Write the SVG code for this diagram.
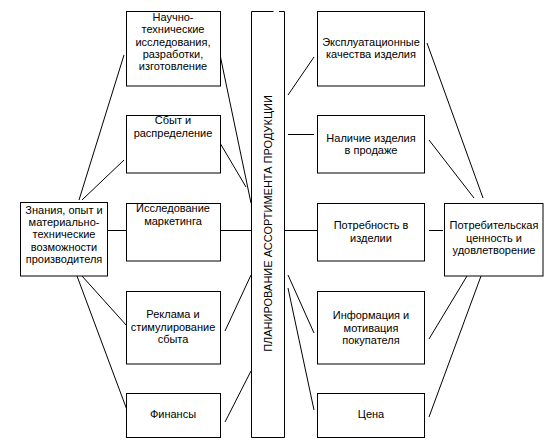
<svg xmlns="http://www.w3.org/2000/svg" width="557" height="444" viewBox="0 0 557 444">
<style>
.box{fill:#fff;stroke:#000;stroke-width:1}
.t{font-family:"Liberation Sans",Arial,sans-serif;font-size:11px;fill:#000;text-anchor:middle}
.c line{stroke:#000;stroke-width:1}
</style>
<rect width="557" height="444" fill="#fff"/>
<g class="c" id="connectors">
<line x1="79" y1="200" x2="124" y2="55"/>
<line x1="82" y1="200" x2="124" y2="160"/>
<line x1="107" y1="230.5" x2="126" y2="230.5"/>
<line x1="82" y1="276" x2="127" y2="326"/>
<line x1="77" y1="276" x2="127" y2="410"/>
<line x1="219" y1="50" x2="251" y2="203"/>
<line x1="220" y1="143" x2="246" y2="187"/>
<line x1="220" y1="230.5" x2="251" y2="230.5"/>
<line x1="225" y1="331" x2="251" y2="275"/>
<line x1="225" y1="422" x2="251" y2="371"/>
<line x1="288" y1="95" x2="314" y2="57"/>
<line x1="288" y1="134.5" x2="314" y2="134.5"/>
<line x1="282" y1="230.5" x2="321" y2="230.5"/>
<line x1="288" y1="275" x2="314" y2="333"/>
<line x1="288" y1="288" x2="314" y2="410"/>
<line x1="427" y1="43" x2="483" y2="198"/>
<line x1="429" y1="140" x2="474" y2="198"/>
<line x1="429" y1="230.5" x2="443" y2="230.5"/>
<line x1="467" y1="276" x2="429" y2="339"/>
<line x1="481" y1="276" x2="429" y2="417"/>
</g>
<g id="center">
<path d="M273.5,11.5 H251.5 V437.5 H284.5 V11.5 H279" fill="#fff" stroke="#000" stroke-width="1"/>
<text class="t" transform="translate(271.5,223.5) rotate(-90)">ПЛАНИРОВАНИЕ АССОРТИМЕНТА ПРОДУКЦИИ</text>
</g>
<g id="n-nauchno">
<rect class="box" x="126.5" y="11.5" width="94" height="74.5"/>
<text class="t" x="173" y="21">Научно-</text>
<text class="t" x="173" y="33">технические</text>
<text class="t" x="173" y="45.5">исследования,</text>
<text class="t" x="173" y="57.5">разработки,</text>
<text class="t" x="173" y="69.5">изготовление</text>
</g>
<g id="n-sbyt">
<rect class="box" x="126.5" y="115.5" width="94" height="57.5"/>
<text class="t" x="173" y="124">Сбыт и</text>
<text class="t" x="173" y="136.5">распределение</text>
</g>
<g id="n-znaniya">
<rect class="box" x="20.5" y="202.5" width="87" height="73.5"/>
<text class="t" x="64" y="213.5">Знания, опыт и</text>
<text class="t" x="64" y="226">материально-</text>
<text class="t" x="64" y="238">технические</text>
<text class="t" x="64" y="250.5">возможности</text>
<text class="t" x="64" y="262.5">производителя</text>
</g>
<g id="n-issled">
<rect class="box" x="126.5" y="203.5" width="94" height="57.5"/>
<text class="t" x="173" y="212">Исследование</text>
<text class="t" x="173" y="224.5">маркетинга</text>
</g>
<g id="n-reklama">
<rect class="box" x="126.5" y="291.5" width="94" height="72.5"/>
<text class="t" x="173" y="318">Реклама и</text>
<text class="t" x="173" y="330.5">стимулирование</text>
<text class="t" x="173" y="342.5">сбыта</text>
</g>
<g id="n-finansy">
<rect class="box" x="126.5" y="393.5" width="94" height="44"/>
<text class="t" x="173" y="418">Финансы</text>
</g>
<g id="n-ekspl">
<rect class="box" x="317.5" y="11.5" width="107" height="74.5"/>
<text class="t" x="371" y="46">Эксплуатационные</text>
<text class="t" x="371" y="58">качества изделия</text>
</g>
<g id="n-nalichie">
<rect class="box" x="317.5" y="115.5" width="107" height="57.5"/>
<text class="t" x="371" y="141.5">Наличие изделия</text>
<text class="t" x="371" y="153.5">в продаже</text>
</g>
<g id="n-potrebnost">
<rect class="box" x="317.5" y="203.5" width="107" height="57.5"/>
<text class="t" x="371" y="229">Потребность в</text>
<text class="t" x="371" y="241.5">изделии</text>
</g>
<g id="n-info">
<rect class="box" x="317.5" y="291.5" width="107" height="72.5"/>
<text class="t" x="371" y="319">Информация и</text>
<text class="t" x="371" y="331.5">мотивация</text>
<text class="t" x="371" y="343.5">покупателя</text>
</g>
<g id="n-cena">
<rect class="box" x="317.5" y="393.5" width="107" height="44"/>
<text class="t" x="371" y="418">Цена</text>
</g>
<g id="n-cennost">
<rect class="box" x="444.5" y="203.5" width="98.5" height="72.5"/>
<text class="t" x="494" y="229">Потребительская</text>
<text class="t" x="494" y="242">ценность и</text>
<text class="t" x="494" y="254">удовлетворение</text>
</g>
</svg>
